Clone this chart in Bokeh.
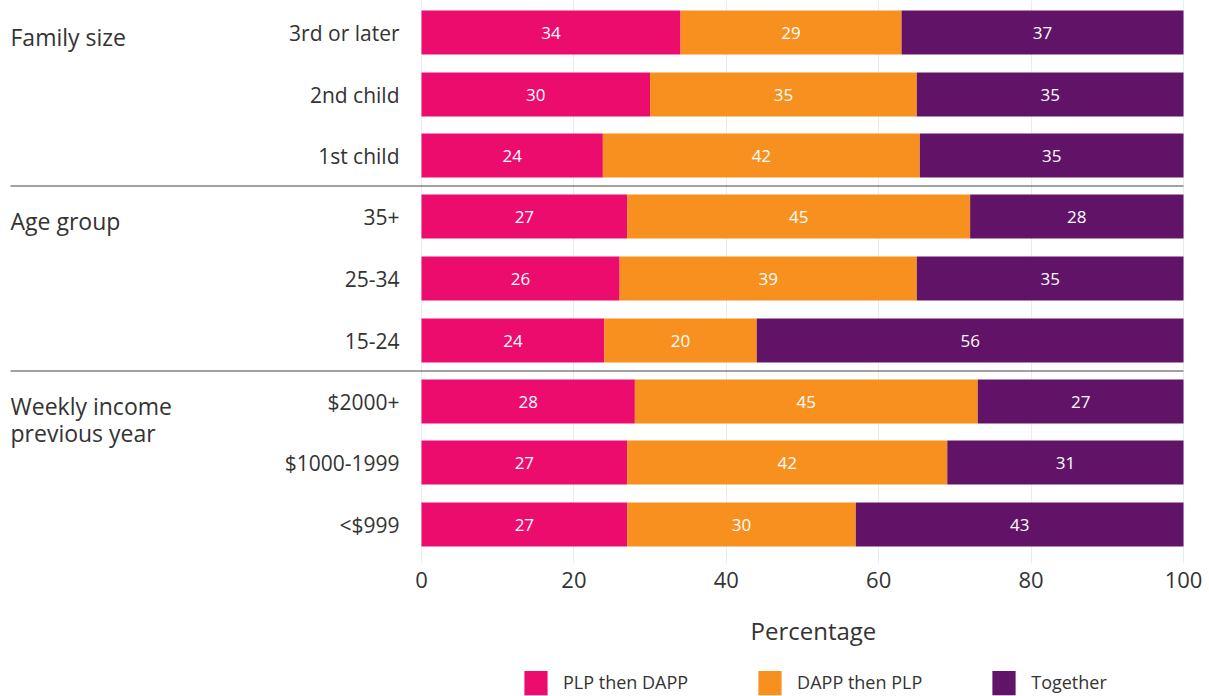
from bokeh.plotting import figure
from bokeh.layouts import column
from bokeh.models import Range1d, FixedTicker, Legend, LegendItem, ColumnDataSource, Title
from bokeh.core.properties import value
from bokeh.embed import file_html
from bokeh.resources import INLINE

# ---- data ----
categories = ["3rd or later", "2nd child", "1st child",
              "35+", "25-34", "15-24",
              "$2000+", "$1000-1999", "<$999"]
groups = ["Family size", "Age group", "Weekly income\nprevious year"]
plp_then_dapp = [34, 30, 23.8, 27, 26, 24, 28, 27, 27]
dapp_then_plp = [29, 35, 41.6, 45, 39, 20, 45, 42, 30]
together = [37, 35, 34.6, 28, 35, 56, 27, 31, 43]
series_names = ["PLP then DAPP", "DAPP then PLP", "Together"]
x_ticks = [0, 20, 40, 60, 80, 100]

# ---- style / layout ----
colors = ["#EC0C6E", "#F7901E", "#611467"]
FONT = "Open Sans"
TXT = "#333333"
W, H, LEG_H = 1209, 696, 25
MAIN_H = H - LEG_H
ROW0, PITCH, BAR_H, FRAME_H = 32, 61.5, 44, 563
X0_PX, PX_PER_UNIT = 421, 7.62          # pixel of value 0, pixels per percentage point
X_MIN = -X0_PX / PX_PER_UNIT
X_MAX = (W - X0_PX) / PX_PER_UNIT
GROUP_X = (10 - X0_PX) / PX_PER_UNIT
CAT_X = -22 / PX_PER_UNIT

ys = [round(ROW0 + i * PITCH) for i in range(len(categories))]

p = figure(width=W, height=MAIN_H, x_range=Range1d(X_MIN, X_MAX), y_range=Range1d(FRAME_H, 0),
           output_backend="svg", toolbar_location=None,
           min_border_left=0, min_border_right=0, min_border_top=0,
           min_border_bottom=MAIN_H - FRAME_H)
p.outline_line_color = None
p.yaxis.visible = False

series = [plp_then_dapp, dapp_then_plp, together]
lefts = [0.0] * len(categories)
for name, vals, col in zip(series_names, series, colors):
    rights = [l + v for l, v in zip(lefts, vals)]
    src = ColumnDataSource(dict(y=ys, left=lefts, right=rights,
                                mid=[(l + r) / 2 for l, r in zip(lefts, rights)],
                                lab=[str(round(v)) for v in vals]))
    p.hbar(y="y", left="left", right="right", height=BAR_H, source=src,
           fill_color=col, line_color=None)
    p.text(x="mid", y="y", text="lab", source=src, text_color="white",
           text_font=value(FONT), text_font_size="17px",
           text_align="center", text_baseline="middle")
    lefts = rights

# category labels
p.text(x=[CAT_X] * len(categories), y=ys, text=categories, text_color=TXT,
       text_font=value(FONT), text_font_size="21px",
       text_align="right", text_baseline="middle")

# group labels and separators
n_per = len(categories) // len(groups)
p.text(x=[GROUP_X] * len(groups), y=[ys[g * n_per] - 12 for g in range(len(groups))],
       text=groups, text_color=TXT, text_font=value(FONT), text_font_size="23px",
       text_align="left", text_baseline="top", text_line_height=0.85)
sep_y = [(ys[g * n_per - 1] + ys[g * n_per]) / 2 for g in range(1, len(groups))]
p.segment(x0=[GROUP_X] * len(sep_y), x1=[100] * len(sep_y), y0=sep_y, y1=sep_y,
          line_color="#444444", line_width=1)

# x axis
p.xaxis.ticker = FixedTicker(ticks=x_ticks)
p.xaxis.axis_line_color = None
p.xaxis.major_tick_line_color = None
p.xaxis.minor_tick_line_color = None
p.xaxis.major_label_standoff = 2
p.xaxis.major_label_text_font = FONT
p.xaxis.major_label_text_font_size = "22px"
p.xaxis.major_label_text_color = TXT

p.xgrid.grid_line_color = "#e6edf0"
p.xgrid.grid_line_width = 1
p.ygrid.visible = False

title = Title(text="Percentage", align="left", offset=750, standoff=43,
              text_font=FONT, text_font_size="24px", text_font_style="normal",
              text_color=TXT)
p.add_layout(title, "below")

# legend strip
q = figure(width=W, height=LEG_H, x_range=Range1d(0, W), y_range=Range1d(0, LEG_H),
           output_backend="svg", toolbar_location=None,
           min_border_left=0, min_border_right=0, min_border_top=0, min_border_bottom=0)
q.axis.visible = False
q.grid.visible = False
q.outline_line_color = None
items = []
for name, col in zip(series_names, colors):
    # one off-screen bar so the legend swatch is drawn
    r = q.hbar(y=[-1000], left=[0], right=[1], height=1, fill_color=col, line_color=None)
    items.append(LegendItem(label=name, renderers=[r]))
legend = Legend(items=items, orientation="horizontal", location=(521, -2),
                glyph_width=29, glyph_height=32, label_standoff=13, spacing=67,
                padding=0, margin=0, border_line_color=None, background_fill_alpha=0,
                label_text_font=FONT, label_text_font_size="18px", label_text_color=TXT)
q.add_layout(legend)

layout = column(p, q, spacing=0)
open("out.html", "w").write(file_html(layout, INLINE))
